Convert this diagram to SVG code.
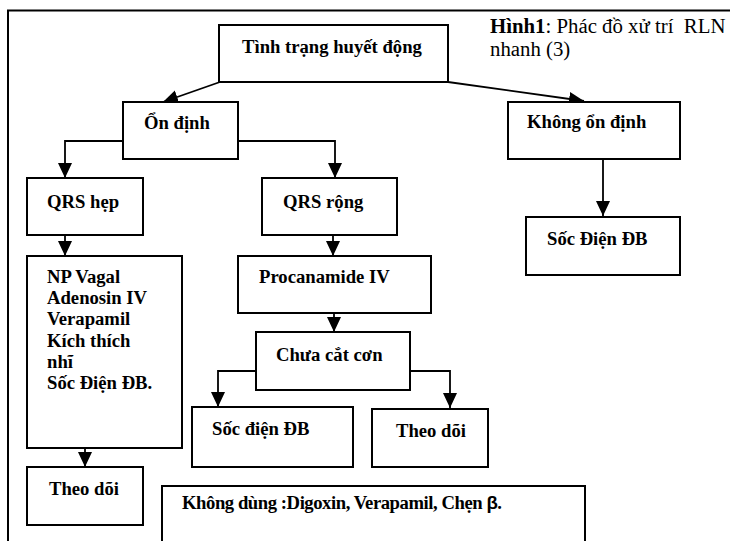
<svg xmlns="http://www.w3.org/2000/svg" width="730" height="541" viewBox="0 0 730 541">
<defs>
<style>
.box{fill:#fff;stroke:#000;stroke-width:2}
.t{font-family:"Liberation Serif","Times New Roman",serif;font-weight:bold;font-size:18.67px;fill:#000}
.cap{font-family:"Liberation Serif","Times New Roman",serif;font-size:20.8px;fill:#000}
.ln{fill:none;stroke:#000;stroke-width:1.8}
</style>
<marker id="ah" markerUnits="userSpaceOnUse" markerWidth="16" markerHeight="16" viewBox="0 0 16 14" refX="15" refY="7" orient="auto">
<path d="M0,0 L15,7 L0,14 z" fill="#000"/>
</marker>
</defs>
<rect width="730" height="541" fill="#fff"/>
<rect x="8" y="10.5" width="740" height="560" fill="none" stroke="#000" stroke-width="2"/>
<text class="cap" x="490" y="33" xml:space="preserve"><tspan font-weight="bold">Hình1</tspan>: Phác đồ xử trí  RLN</text>
<text class="cap" x="490" y="56">nhanh (3)</text>
<g id="connectors">
<line class="ln" x1="220" y1="82" x2="163" y2="102" marker-end="url(#ah)"/>
<line class="ln" x1="448" y1="82" x2="584" y2="101" marker-end="url(#ah)"/>
<polyline class="ln" points="123,141 65,141 65,178" marker-end="url(#ah)"/>
<polyline class="ln" points="238,141 335,141 335,178" marker-end="url(#ah)"/>
<line class="ln" x1="603" y1="159" x2="603" y2="216" marker-end="url(#ah)"/>
<line class="ln" x1="65" y1="235" x2="65" y2="256" marker-end="url(#ah)"/>
<line class="ln" x1="333" y1="235" x2="333" y2="256" marker-end="url(#ah)"/>
<line class="ln" x1="85" y1="448" x2="85" y2="467" marker-end="url(#ah)"/>
<line class="ln" x1="334" y1="313" x2="334" y2="332" marker-end="url(#ah)"/>
<polyline class="ln" points="258,371 218,371 218,407" marker-end="url(#ah)"/>
<polyline class="ln" points="410,371 450,371 450,408" marker-end="url(#ah)"/>
</g>
<g id="n-huyetdong"><rect class="box" x="219" y="25" width="229" height="57"/><text class="t" x="242" y="53">Tình trạng huyết động</text></g>
<g id="n-ondinh"><rect class="box" x="123" y="102" width="115" height="57"/><text class="t" x="144" y="129">Ổn định</text></g>
<g id="n-khongondinh"><rect class="box" x="508" y="102" width="172" height="57"/><text class="t" x="527" y="128">Không ổn định</text></g>
<g id="n-socdien1"><rect class="box" x="526" y="217" width="154" height="58"/><text class="t" x="547" y="245">Sốc Điện ĐB</text></g>
<g id="n-qrshep"><rect class="box" x="27" y="178" width="116" height="57"/><text class="t" x="47" y="208">QRS hẹp</text></g>
<g id="n-qrsrong"><rect class="box" x="262" y="178" width="135" height="57"/><text class="t" x="283" y="208">QRS rộng</text></g>
<g id="n-npvagal"><rect class="box" x="27" y="256" width="155" height="192"/>
<text class="t" x="47" y="283.3">NP Vagal</text>
<text class="t" x="47" y="304.3">Adenosin IV</text>
<text class="t" x="47" y="325.3">Verapamil</text>
<text class="t" x="47" y="346.5">Kích thích</text>
<text class="t" x="47" y="367.5">nhĩ</text>
<text class="t" x="47" y="388.5">Sốc Điện ĐB.</text></g>
<g id="n-procanamide"><rect class="box" x="238" y="256" width="193" height="57"/><text class="t" x="259" y="283">Procanamide IV</text></g>
<g id="n-chuacatcon"><rect class="box" x="256" y="332" width="154" height="58"/><text class="t" x="276" y="361">Chưa cắt cơn</text></g>
<g id="n-socdien2"><rect class="box" x="192" y="407" width="161" height="60"/><text class="t" x="212" y="435">Sốc điện ĐB</text></g>
<g id="n-theodoi2"><rect class="box" x="372" y="409" width="116" height="58"/><text class="t" x="396" y="437">Theo dõi</text></g>
<g id="n-theodoi1"><rect class="box" x="27" y="467" width="116" height="58"/><text class="t" x="49" y="495">Theo dõi</text></g>
<g id="n-khongdung"><rect class="box" x="162" y="486" width="423" height="70"/><text class="t" x="182" y="509" textLength="320" lengthAdjust="spacing">Không dùng :Digoxin, Verapamil, Chẹn <tspan font-family="'Liberation Sans',Arial,sans-serif">β</tspan>.</text></g>
</svg>
